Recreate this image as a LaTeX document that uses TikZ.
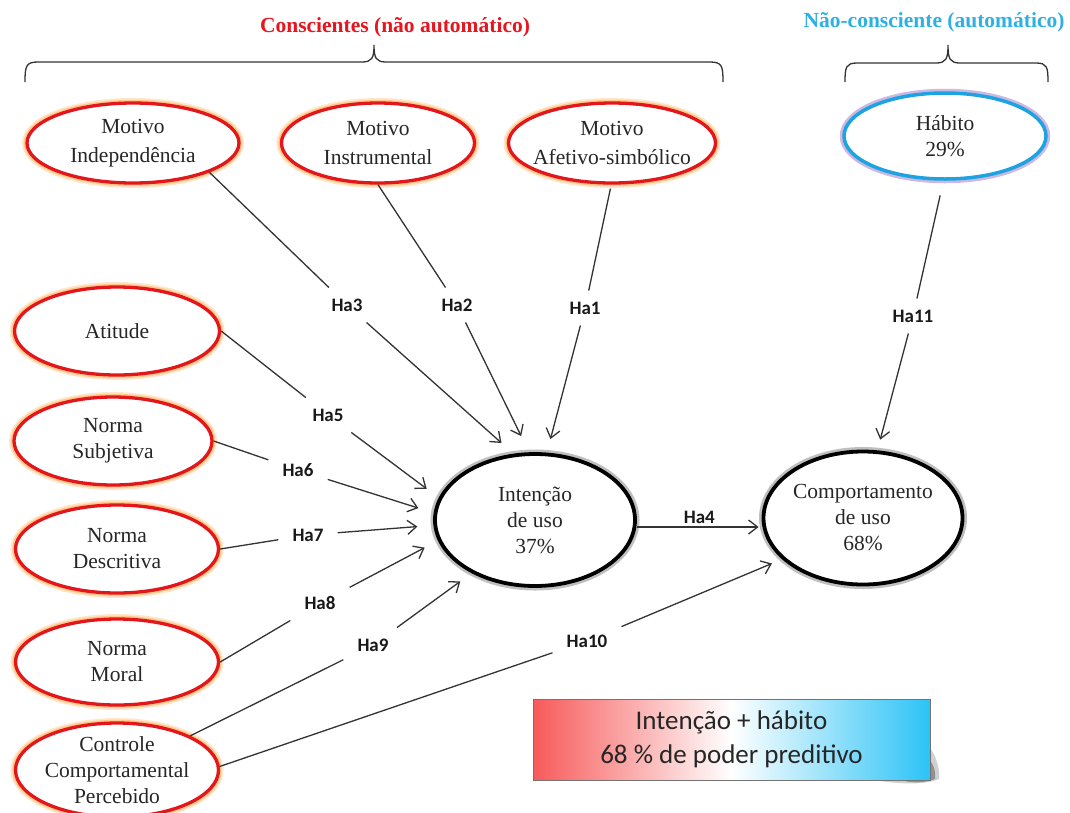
\documentclass[tikz,border=0pt]{standalone}
\usepackage{fontspec}
\setmainfont{Liberation Serif}
\newfontfamily\calib{Carlito}
\usetikzlibrary{shapes.geometric,arrows.meta}
\definecolor{ellred}{HTML}{E3161B}
\definecolor{glowor}{HTML}{FFC98A}
\definecolor{titred}{HTML}{E8141E}
\definecolor{titblue}{HTML}{2EB0E2}
\definecolor{habblue}{HTML}{1CA3E0}
\definecolor{habglow}{HTML}{B79AD8}
\definecolor{linegray}{HTML}{333333}
\definecolor{boxred}{HTML}{F75A5A}
\definecolor{boxcyan}{HTML}{2CC3F6}
\tikzset{
  ellbase/.style={ellipse, inner sep=0pt, fill=white},
  redell/.style={ellbase, draw=ellred, line width=3.3pt,
    preaction={draw=glowor, line width=10pt, draw opacity=0.45},
    preaction={draw=glowor, line width=6.5pt}},
  blkell/.style={ellbase, draw=black, line width=3.8pt,
    preaction={draw=black!25, line width=9pt}},
  habell/.style={ellbase, draw=habblue, line width=3.5pt,
    preaction={draw=habglow, line width=8.5pt, draw opacity=0.7}},
  etxt/.style={inner sep=0pt, align=center, font=\fontsize{21.5}{26}\selectfont, text=black!85},
  etxttop/.style={etxt, font=\fontsize{21.5}{29}\selectfont},
  lbl/.style={inner xsep=14pt, inner ysep=11pt, font=\calib\bfseries\fontsize{19}{21}\selectfont, text=black!90},
  ln/.style={draw=linegray, line width=1.3pt},
  arr/.style={ln, -{Straight Barb[length=9pt,width=14pt,line width=1.3pt]}},
  bracepath/.style={draw=linegray, line width=1.3pt},
  title/.style={font=\bfseries\fontsize{21.5}{24}\selectfont, inner sep=0pt},
  box/.style={minimum width=397pt, minimum height=81pt, draw=black!55, line width=0.8pt,
    left color=boxred, right color=boxcyan, middle color=white, align=center,
    font=\calib\fontsize{27}{34}\selectfont, text=black!85}
}
\begin{document}
\begin{tikzpicture}[x=1pt,y=-1pt]
\useasboundingbox (0,0) rectangle (1070,812);
\fill[white] (0,0) rectangle (1070,812);

% titles
\node[title, text=titred] (tcons) at (395,27) {Conscientes (não automático)};
\node[title, text=titblue] (tnc) at (934,22) {Não-consciente (automático)};

% braces
\draw[bracepath] (25,82) .. controls (25,66) and (26,62) .. (38,62) -- (362,62)
  .. controls (372,62) and (374,58) .. (374,45) .. controls (374,58) and (376,62) .. (386,62)
  -- (710,62) .. controls (722,62) and (723,66) .. (723,82);
\draw[bracepath] (845,82) .. controls (845,67) and (846,63) .. (857,63) -- (936,63)
  .. controls (946,63) and (948,59) .. (948,45) .. controls (948,59) and (950,63) .. (960,63)
  -- (1036,63) .. controls (1047,63) and (1048,67) .. (1048,82);

% ellipses
\node[redell, minimum width=212pt, minimum height=80pt,
  label={[etxttop]center:Motivo\\Independência}] (mi) at (133,143) {};
\node[redell, minimum width=193pt, minimum height=80pt,
  label={[etxttop]center:Motivo\\Instrumental}] (mins) at (378,143) {};
\node[redell, minimum width=207pt, minimum height=80pt,
  label={[etxttop]center:Motivo\\Afetivo-simbólico}] (maf) at (612,143) {};
\node[habell, minimum width=202pt, minimum height=86pt,
  label={[etxt]center:Hábito\\29\%}] (hab) at (945,136) {};
\node[redell, minimum width=205pt, minimum height=88pt,
  label={[etxt]center:Atitude}] (ati) at (117,331) {};
\node[redell, minimum width=198pt, minimum height=88pt,
  label={[etxt]center:Norma\\Subjetiva}] (nsub) at (113,441) {};
\node[redell, minimum width=203pt, minimum height=88pt,
  label={[etxt]center:Norma\\Descritiva}] (ndesc) at (117,549) {};
\node[redell, minimum width=203pt, minimum height=86pt,
  label={[etxt]center:Norma\\Moral}] (nmor) at (117,662) {};
\node[redell, minimum width=203pt, minimum height=94pt,
  label={[etxt]center:Controle\\Comportamental\\Percebido}] (ctrl) at (117,770) {};
\node[blkell, minimum width=200pt, minimum height=132pt,
  label={[etxt]center:Intenção\\de uso\\37\%}] (int) at (535,520) {};
\node[blkell, minimum width=199pt, minimum height=133pt,
  label={[etxt]center:Comportamento\\de uso\\68\%}] (comp) at (863,518) {};

% hypothesis labels
\node[lbl] (l3) at (347,305) {Ha3};
\node[lbl] (l2) at (457,305) {Ha2};
\node[lbl] (l1) at (585,308) {Ha1};
\node[lbl] (l11) at (913,316) {Ha11};
\node[lbl] (l5) at (328,415) {Ha5};
\node[lbl] (l6) at (298,470) {Ha6};
\node[lbl] (l7) at (308,535) {Ha7};
\node[lbl] (l8) at (320,603) {Ha8};
\node[lbl] (l9) at (373,645) {Ha9};
\node[lbl] (l10) at (587,641) {Ha10};

% connectors
\draw[ln] (mi.-21) -- (l3);   \draw[arr, shorten >=16pt] (l3) -- (int.108);
\draw[ln] (mins.-90) -- (l2); \draw[arr, shorten >=18pt] (l2) -- (int.95);
\draw[ln, shorten <=4pt] (maf.-91) -- (l1); \draw[arr, shorten >=14pt] (l1) -- (int.80);
\draw[ln, shorten <=15pt] (hab.-92) -- (l11); \draw[arr, shorten >=11pt] (l11) -- (comp.78);
\draw[ln] (ati.east) -- (l5);  \draw[arr, shorten >=15pt] (l5) -- (int.167);
\draw[ln] (nsub.east) -- (l6); \draw[arr, shorten >=16pt] (l6) -- (int.176);
\draw[ln] (ndesc.east) -- (l7); \draw[arr, shorten >=16pt] (l7) -- (int.-177);
\draw[ln] (nmor.east) -- (l8); \draw[arr, shorten >=15pt] (l8) -- (int.-168);
\draw[ln] (ctrl.25) -- (l9);   \draw[arr, shorten >=14pt] (l9) -- (int.-140);
\draw[ln] (ctrl.2) -- (l10);   \draw[arr, shorten >=11pt] (l10) -- (comp.-153);
\draw[arr, shorten >=3pt] ([yshift=-7pt]int.east) --
  node[lbl, above, inner ysep=3pt] (l4) {Ha4} ([yshift=-9pt]comp.west);

% summary box with shadow
\fill[black!30, opacity=0.6] (880,781) -- (930,781) -- (930,748)
  .. controls (936,756) and (940,768) .. (939,779) .. controls (925,785) and (900,784) .. cycle;
\fill[black!60, opacity=0.6] (905,781) -- (930,781) -- (930,760)
  .. controls (934,766) and (936,772) .. (935,779) .. controls (925,783) and (912,783) .. cycle;
\node[box] (bx) at (731.5,739.5) {Intenção + hábito\\68 \% de poder preditivo};
\end{tikzpicture}
\end{document}
